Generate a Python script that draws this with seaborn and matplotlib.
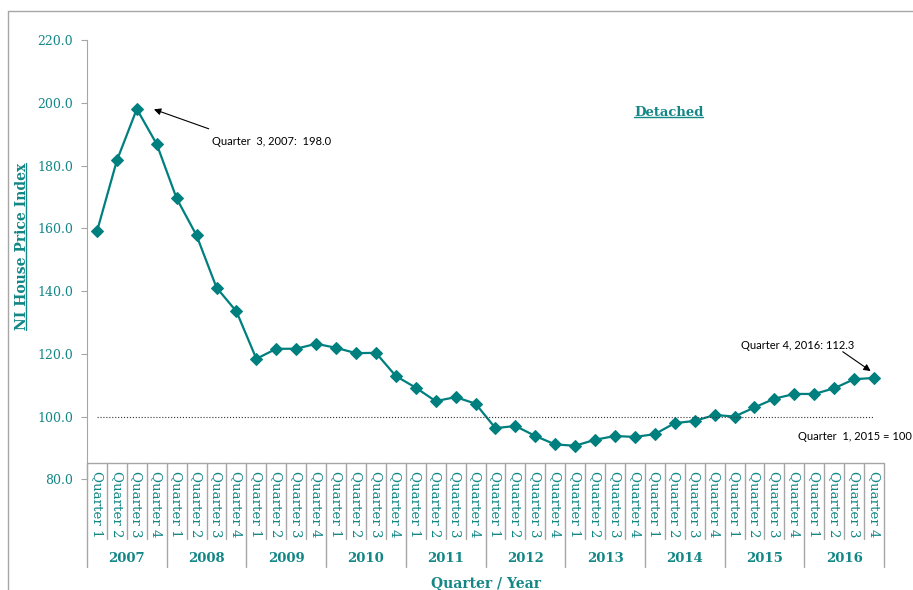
import numpy as np
import pandas as pd
import seaborn as sns
import matplotlib.pyplot as plt
from matplotlib.lines import Line2D

# NI house price index, detached, Q1 2007 - Q4 2016
years = [str(y) for y in range(2007, 2017)]
quarters = ["Quarter 1", "Quarter 2", "Quarter 3", "Quarter 4"]
hpi = [159.0, 181.6, 198.0, 186.8,
       169.5, 157.7, 141.1, 133.5,
       118.4, 121.6, 121.6, 123.2,
       121.9, 120.2, 120.3, 112.9,
       109.2, 104.9, 106.2, 104.1,
       96.3, 97.0, 93.8, 91.1,
       90.7, 92.6, 93.8, 93.5,
       94.4, 97.9, 98.6, 100.5,
       100.0, 102.9, 105.7, 107.2,
       107.2, 109.0, 111.9, 112.3]
base_value = 100
yticks = [80, 100, 120, 140, 160, 180, 200, 220]

df = pd.DataFrame({"year": np.repeat(years, 4), "quarter": quarters * len(years), "hpi": hpi})
df["pos"] = np.arange(len(df))

sns.set_style("white")
plt.rcParams["font.family"] = ["DejaVu Serif"]

teal = "#007f7f"
txt = "#138686"
grey = "#a6a6a6"

W, H = 913, 590
fig = plt.figure(figsize=(W / 100, H / 100), dpi=100)
ax = fig.add_axes([87 / W, 1 - 479.3 / H, 797 / W, 439.3 / H])

sns.lineplot(data=df, x="pos", y="hpi", color=teal, lw=1.6, marker="D",
             markersize=6.5, markeredgecolor=teal, ax=ax)
ax.plot(df["pos"], [base_value] * len(df), ls=":", color="#333333", lw=0.8)

ax.set_xlim(-0.5, len(df) - 0.5)
ax.set_ylim(80, 220)
ax.set_yticks(yticks)
ax.set_yticklabels([f"{v:.1f}" for v in yticks])
ax.set_xticks([])
ax.set_xlabel("")
ax.set_ylabel("")
for s in ["top", "right", "bottom"]:
    ax.spines[s].set_visible(False)
ax.spines["left"].set_color(grey)
ax.tick_params(axis="y", left=True, length=4, color=grey, labelcolor=txt,
               labelsize=9, pad=6)

# category table under the plot
tr = ax.get_xaxis_transform()
top = 0.0378
ax.plot([-0.5, len(df) - 0.5], [top, top], transform=tr, clip_on=False, color=grey, lw=1)
for i in range(len(df) + 1):
    bot = -0.2003 if i % 4 == 0 else -0.1366
    ax.plot([i - 0.5, i - 0.5], [top, bot], transform=tr, clip_on=False, color=grey, lw=1)
for i, q in enumerate(df["quarter"]):
    ax.text(i, 0.02, q, transform=tr, rotation=270, ha="center", va="top",
            fontsize=9.6, color=txt)
for k, y in enumerate(years):
    ax.text(4 * k + 1.5, -0.180, y, transform=tr, ha="center", va="center",
            fontsize=9.5, fontweight="bold", color=txt)
ax.text(19.5, -0.236, "Quarter / Year", transform=tr, ha="center", va="center",
        fontsize=10, fontweight="bold", color=txt)

# annotations
arrow = dict(arrowstyle="-|>", color="black", lw=0.8, shrinkA=0, shrinkB=0, mutation_scale=10)
ax.annotate("", xy=(2.86, 197.9), xytext=(5.61, 191.7), arrowprops=arrow)
ax.text(5.76, 187.8, "Quarter  3, 2007:  198.0", ha="left", va="center",
        fontsize=8, family="Lato", color="black")
ax.annotate("", xy=(38.83, 114.5), xytext=(37.43, 120.66), arrowprops=arrow)
ax.text(32.31, 122.5, "Quarter 4, 2016: 112.3", ha="left", va="center",
        fontsize=8, family="Lato", color="black")
ax.text(35.17, 93.6, "Quarter  1, 2015 = 100", ha="left", va="center",
        fontsize=8, family="Lato", color="black")

ylab = fig.text(21.7 / W, 1 - 246.5 / H, "NI House Price Index", rotation=90,
                ha="center", va="center", fontsize=10, fontweight="bold", color=txt)
det = fig.text(668.7 / W, 1 - 112.7 / H, "Detached", ha="center", va="center",
               fontsize=9.5, fontweight="bold", color=txt)

# underlines
fig.canvas.draw()
r = fig.canvas.get_renderer()
bb = det.get_window_extent(r)
fig.add_artist(Line2D([bb.x0 / W, bb.x1 / W], [(bb.y0 + 2.5) / H] * 2, color=txt, lw=1))
bb = ylab.get_window_extent(r)
fig.add_artist(Line2D([(bb.x1 - 2.5) / W] * 2, [bb.y0 / H, bb.y1 / H], color=txt, lw=1))

# chart border
fig.add_artist(Line2D([8 / W, 8 / W], [0, 1 - 11 / H], color=grey, lw=1))
fig.add_artist(Line2D([8 / W, 1], [1 - 11 / H] * 2, color=grey, lw=1))

fig.savefig("out.png", dpi=100)
